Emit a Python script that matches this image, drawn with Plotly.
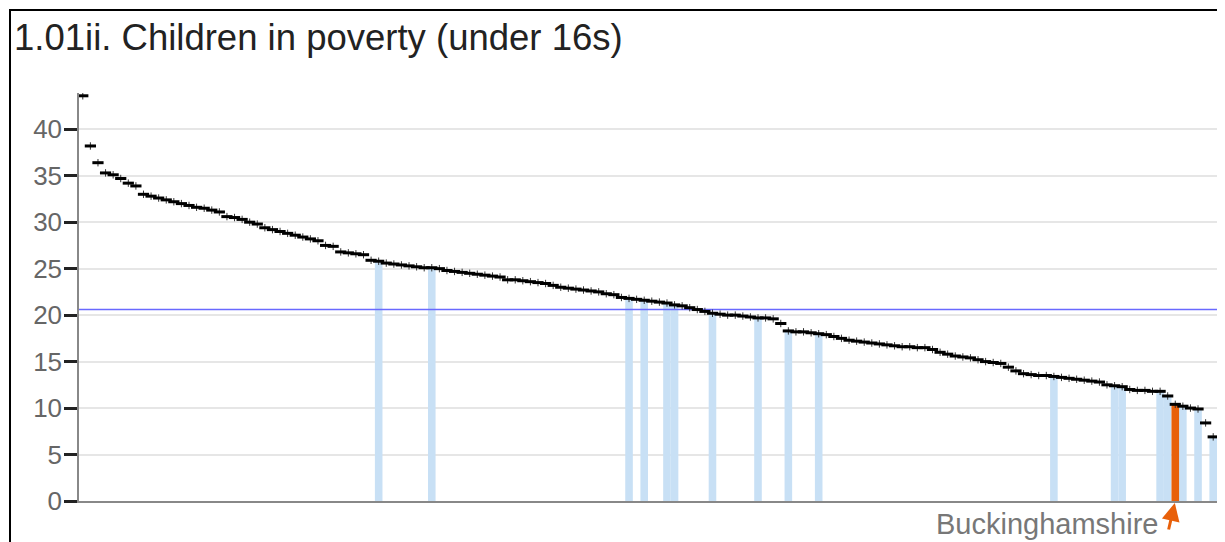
import plotly.graph_objects as go

title_text = "1.01ii. Children in poverty (under 16s)"
highlight_name = "Buckinghamshire"
england_value = 20.6

values = [43.6, 38.2, 36.4, 35.3, 35.1, 34.7, 34.2, 33.9, 33.0, 32.8,
          32.6, 32.4, 32.2, 32.0, 31.8, 31.6, 31.5, 31.3, 31.1, 30.6,
          30.5, 30.3, 30.0, 29.8, 29.4, 29.2, 29.0, 28.8, 28.6, 28.4,
          28.2, 28.0, 27.5, 27.4, 26.8, 26.7, 26.6, 26.5, 25.9, 25.8,
          25.6, 25.5, 25.4, 25.3, 25.2, 25.1, 25.1, 25.0, 24.8, 24.7,
          24.6, 24.5, 24.4, 24.3, 24.2, 24.1, 23.8, 23.8, 23.7, 23.6,
          23.5, 23.4, 23.2, 23.0, 22.9, 22.8, 22.7, 22.6, 22.5, 22.3,
          22.2, 21.9, 21.8, 21.7, 21.6, 21.5, 21.4, 21.3, 21.1, 21.0,
          20.8, 20.6, 20.4, 20.2, 20.1, 20.0, 20.0, 19.9, 19.8, 19.7,
          19.7, 19.6, 19.1, 18.3, 18.2, 18.2, 18.1, 18.0, 17.9, 17.7,
          17.5, 17.3, 17.2, 17.1, 17.0, 16.9, 16.8, 16.7, 16.6, 16.6,
          16.5, 16.5, 16.3, 16.0, 15.8, 15.6, 15.5, 15.4, 15.2, 15.0,
          14.9, 14.8, 14.4, 14.0, 13.7, 13.6, 13.5, 13.5, 13.4, 13.3,
          13.2, 13.1, 13.0, 12.9, 12.8, 12.5, 12.4, 12.3, 12.0, 11.9,
          11.9, 11.8, 11.8, 11.3, 10.4, 10.2, 10.0, 9.9, 8.4, 6.9]

region_idx = [39, 46, 72, 74, 77, 78, 83, 89, 93, 97, 128, 136, 137,
              142, 143, 145, 147, 149]
highlight_idx = 144

ytick_vals = [0, 5, 10, 15, 20, 25, 30, 35, 40]

n = len(values)
xs = list(range(n))

# page body margin compensation (browser default 8px)
W, H = 1217, 534
PL, PT, PW, PH = 71, 85, 1138, 408   # plot area in figure pixels

fig = go.Figure()

fig.add_trace(go.Bar(
    x=region_idx, y=[values[i] for i in region_idx], width=1,
    marker=dict(color="rgb(200,224,245)", line=dict(width=0)),
    hoverinfo="skip", showlegend=False))

fig.add_trace(go.Bar(
    x=[highlight_idx], y=[values[highlight_idx]], width=1,
    marker=dict(color="rgb(232,96,10)", line=dict(width=0)),
    hoverinfo="skip", showlegend=False))

fig.add_trace(go.Scatter(
    x=[-0.5, n - 0.5], y=[england_value, england_value], mode="lines",
    line=dict(color="rgb(105,105,255)", width=1.5),
    hoverinfo="skip", showlegend=False))

fig.add_trace(go.Scatter(
    x=xs, y=values, mode="markers",
    marker=dict(symbol="line-ew", size=8, color="black",
                line=dict(color="black", width=3)),
    error_y=dict(type="constant", value=0.4, thickness=1, width=0,
                 color="#333"),
    showlegend=False))

fig.update_layout(
    width=W, height=H,
    margin=dict(l=PL, r=W - PL - PW, t=PT, b=H - PT - PH, pad=0),
    paper_bgcolor="white", plot_bgcolor="white",
    barmode="overlay",
    title=dict(text=title_text, x=6 / W, xanchor="left", xref="container",
               y=1 - 29 / H, yanchor="middle", yref="container",
               font=dict(family="Liberation Sans, Arial, sans-serif", size=36.5,
                         color="#222")),
    font=dict(family="Liberation Sans, Arial, sans-serif"),
)

fig.update_xaxes(range=[-0.5, n - 0.5], showgrid=False, zeroline=False,
                 showticklabels=False, ticks="", showline=True,
                 linecolor="#888", linewidth=1.5)
fig.update_yaxes(range=[0, 43.9], tickvals=ytick_vals, showgrid=True,
                 gridcolor="#e6e6e6", gridwidth=1.5, zeroline=False,
                 showline=True, linecolor="#888", linewidth=1.5,
                 ticks="outside", ticklen=13, tickwidth=2.5, tickcolor="#222",
                 ticklabelstandoff=-3,
                 tickfont=dict(size=26, color="#666"))

# outer frame
fig.add_shape(type="rect", xref="paper", yref="paper",
              x0=(2 - PL) / PW, x1=1.2, y0=-0.3, y1=(PT + PH - 2) / PH,
              line=dict(color="black", width=2), fillcolor="rgba(0,0,0,0)",
              layer="above")

# highlight label and arrow
fig.add_annotation(x=highlight_idx, y=0, xref="x", yref="y", text="",
                   showarrow=True, ax=-7, ay=30, arrowhead=2, arrowsize=1.2,
                   arrowwidth=3, arrowcolor="rgb(232,96,10)", standoff=2)
fig.add_annotation(x=(1160 - 79) / PW, y=(501 - 524) / PH, xref="paper",
                   yref="paper", text=highlight_name, showarrow=False,
                   xanchor="right", yanchor="middle",
                   font=dict(size=29, color="#777"))

fig.write_html("out.html")
